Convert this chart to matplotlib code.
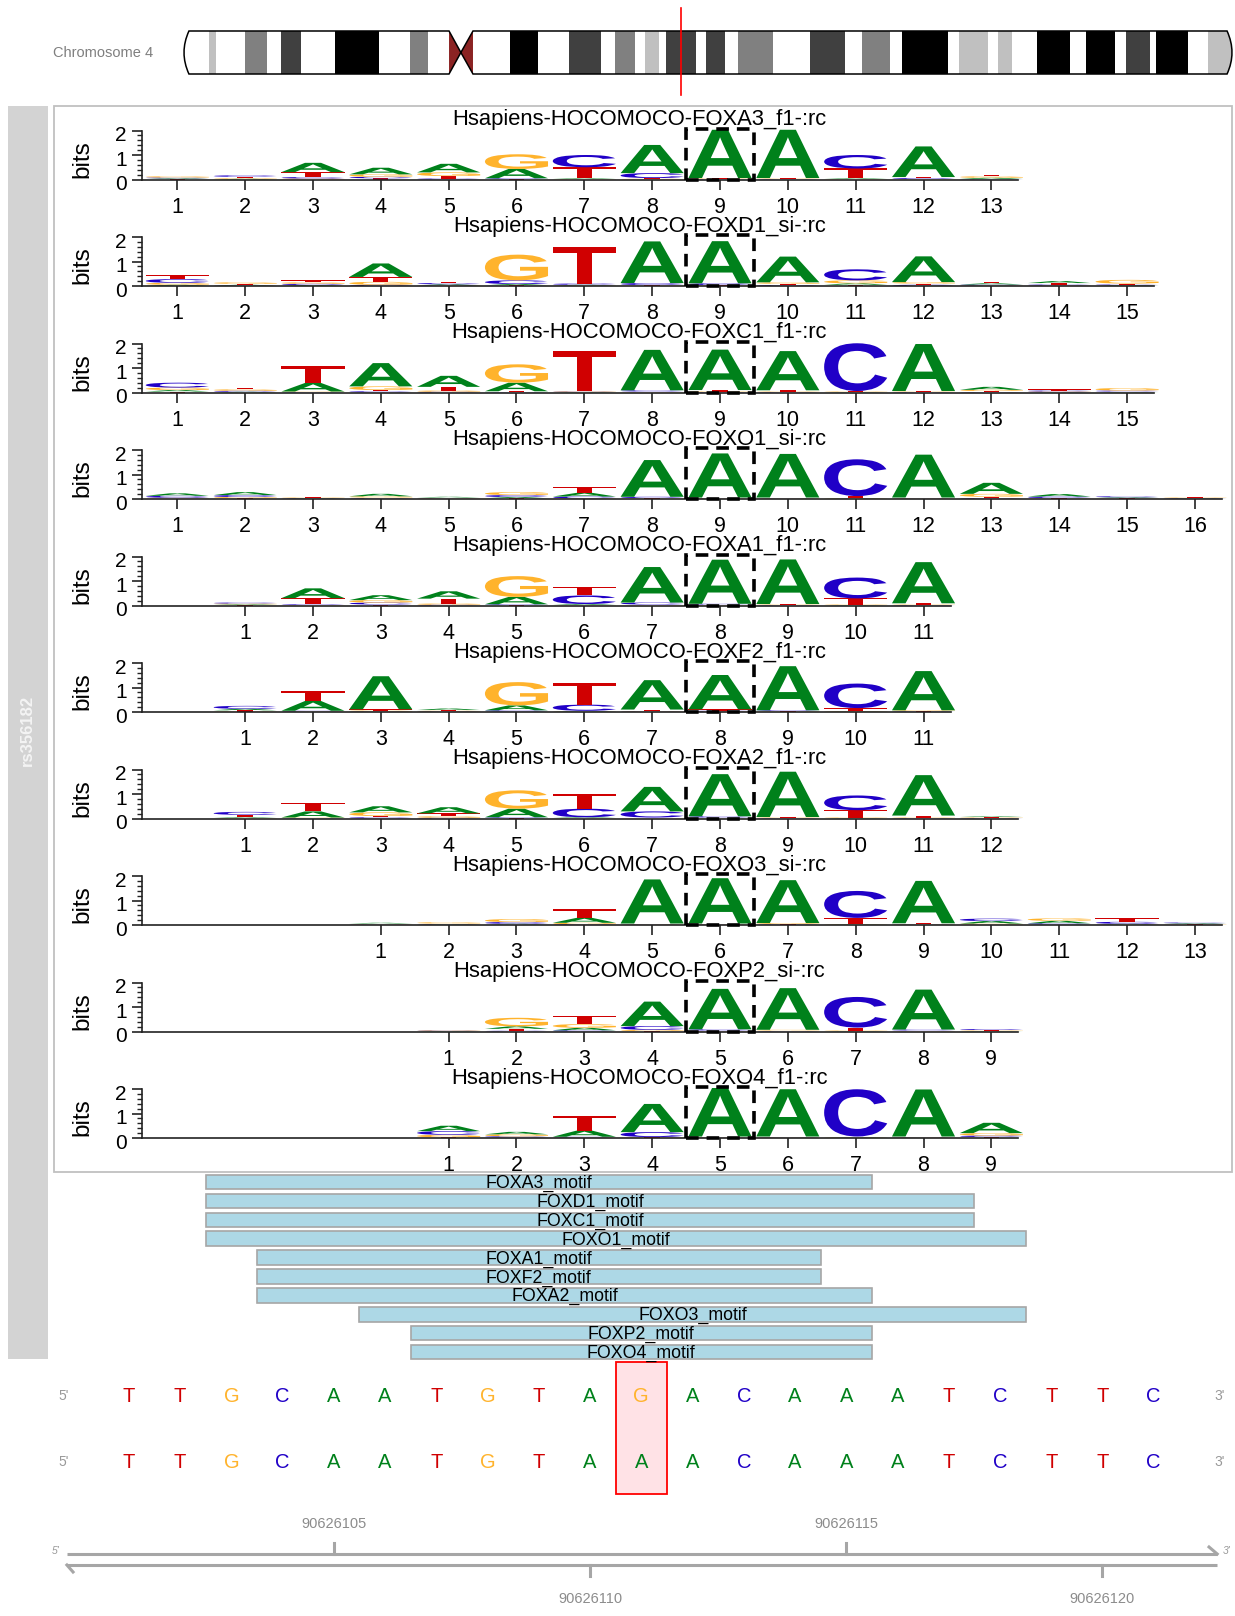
import numpy as np
import matplotlib
matplotlib.use("Agg")
import matplotlib.pyplot as plt
import matplotlib.transforms as mtransforms
from matplotlib.font_manager import FontProperties
from matplotlib.patches import PathPatch, Rectangle, Polygon
from matplotlib.path import Path
from matplotlib.textpath import TextPath
from matplotlib.ticker import MultipleLocator

plt.rcParams['font.family'] = ['Liberation Sans', 'DejaVu Sans']

# ---------------- data ----------------
chrom_name = "Chromosome 4"
chrom_len = 191.15  # Mb
band_starts = [0, 4.56, 5.75, 11.13, 15.14, 17.69, 21.25, 27.54, 35.57, 41.22,
               44.51, 48.34, 50.5, 52.71, 59.46, 64.57, 70.22, 76.06, 78.61, 82.26,
               84.09, 86.64, 87.92, 93.39, 95.21, 98.68, 101.05, 107.43, 114.18, 120.57,
               123.67, 128.77, 130.96, 139.35, 141.36, 146.65, 148.47, 151.03, 155.59, 161.61,
               164.43, 169.81, 171.82, 176.20, 177.29, 183.13, 186.78]
band_stains = ['gneg', 'gpos25', 'gneg', 'gpos50', 'gneg', 'gpos75', 'gneg', 'gpos100', 'gneg', 'gpos50',
               'gneg', 'acen', 'acen', 'gneg', 'gpos100', 'gneg', 'gpos75', 'gneg', 'gpos50', 'gneg',
               'gpos25', 'gneg', 'gpos75', 'gneg', 'gpos75', 'gneg', 'gpos50', 'gneg', 'gpos75', 'gneg',
               'gpos50', 'gneg', 'gpos100', 'gneg', 'gpos25', 'gneg', 'gpos25', 'gneg', 'gpos100', 'gneg',
               'gpos100', 'gneg', 'gpos75', 'gneg', 'gpos100', 'gneg', 'gpos25']

snp_id = "rs356182"
snp_pos = 90626111
seq_start = 90626101
ref_seq = "TTGCAATGTAGACAAATCTTC"
alt_base = "A"

motif_names = ["FOXA3_f1", "FOXD1_si", "FOXC1_f1", "FOXO1_si", "FOXA1_f1",
               "FOXF2_f1", "FOXA2_f1", "FOXO3_si", "FOXP2_si", "FOXO4_f1"]
motif_labels = ["FOXA3_motif", "FOXD1_motif", "FOXC1_motif", "FOXO1_motif", "FOXA1_motif",
                "FOXF2_motif", "FOXA2_motif", "FOXO3_motif", "FOXP2_motif", "FOXO4_motif"]
snp_index = [9, 9, 9, 9, 8, 8, 8, 6, 5, 5]

# information content per position, columns A, C, G, T
foxa3_bits = [[.03, .03, .05, .02], [.03, .06, .03, .05], [.38, .06, .04, .20], [.27, .06, .10, .05],
              [.35, .04, .15, .10], [.38, .03, .60, .02], [.03, .50, .02, .45], [1.15, .20, .03, .03],
              [1.97, .02, .02, .02], [1.97, .02, .02, .02], [.03, .55, .02, .40], [1.25, .04, .02, .04],
              [.05, .02, .06, .07]]
foxd1_bits = [[.05, .15, .08, .15], [.03, .02, .06, .04], [.04, .05, .06, .08], [.55, .05, .12, .20],
              [.05, .05, .02, .05], [.05, .15, 1.05, .03], [.03, .05, .02, 1.50], [1.70, .08, .02, .02],
              [1.72, .07, .02, .02], [1.05, .04, .06, .05], [.06, .45, .12, .05], [1.05, .05, .06, .05],
              [.05, .04, .02, .05], [.08, .04, .02, .06], [.03, .03, .15, .04]]
foxc1_bits = [[.06, .20, .10, .04], [.03, .04, .06, .06], [.35, .02, .02, .70], [.95, .05, .15, .05],
              [.45, .03, .05, .15], [.35, .02, .75, .03], [.02, .02, .02, 1.65], [1.65, .05, .02, .02],
              [1.65, .02, .02, .06], [1.60, .02, .02, .05], [.02, 1.95, .02, .02], [1.92, .02, .02, .02],
              [.12, .02, .05, .04], [.02, .04, .02, .05], [.02, .04, .10, .02]]
foxo1_bits = [[.10, .08, .03, .02], [.12, .08, .05, .03], [.02, .02, .02, .03], [.10, .03, .05, .03],
              [.03, .02, .02, .02], [.05, .08, .12, .03], [.15, .07, .03, .25], [1.50, .05, .02, .02],
              [1.80, .02, .02, .02], [1.78, .02, .02, .02], [.02, 1.50, .02, .08], [1.75, .02, .02, .02],
              [.45, .03, .12, .06], [.10, .06, .02, .02], [.03, .04, .02, .02], [.02, .02, .02, .03]]
foxa1_bits = [[.03, .04, .03, .02], [.40, .03, .02, .25], [.20, .08, .10, .04], [.30, .03, .05, .20],
              [.30, .03, .85, .02], [.04, .35, .02, .35], [1.45, .08, .02, .02], [1.80, .03, .02, .02],
              [1.82, .02, .02, .02], [.02, .85, .02, .25], [1.68, .02, .02, .05]]
foxf2_bits = [[.06, .12, .02, .05], [.40, .03, .02, .40], [1.35, .02, .04, .05], [.06, .02, .03, .03],
              [.20, .05, .95, .02], [.03, .25, .02, .90], [1.20, .02, .02, .06], [1.40, .03, .02, .06],
              [1.80, .03, .02, .02], [.02, 1.00, .02, .12], [1.60, .02, .03, .02]]
foxa2_bits = [[.03, .12, .02, .10], [.25, .02, .02, .35], [.25, .05, .15, .05], [.25, .03, .06, .12],
              [.35, .03, .75, .02], [.03, .35, .02, .60], [1.00, .25, .02, .02], [1.72, .05, .02, .02],
              [1.85, .02, .02, .02], [.02, .60, .02, .30], [1.65, .02, .02, .08], [.03, .02, .02, .02]]
foxo3_bits = [[.03, .02, .02, .02], [.02, .02, .05, .02], [.03, .07, .12, .02], [.20, .03, .06, .35],
              [1.80, .02, .02, .02], [1.85, .02, .02, .02], [1.75, .02, .04, .02], [.02, 1.10, .02, .25],
              [1.73, .02, .02, .03], [.10, .10, .04, .02], [.10, .05, .10, .02], [.03, .08, .02, .15],
              [.03, .03, .02, .02]]
foxp2_bits = [[.02, .02, .02, .02], [.10, .03, .35, .08], [.10, .05, .15, .35], [1.00, .15, .05, .02],
              [1.65, .05, .02, .02], [1.70, .02, .03, .02], [.02, 1.25, .02, .12], [1.63, .04, .02, .02],
              [.02, .04, .02, .02]]
foxo4_bits = [[.22, .15, .10, .03], [.10, .05, .08, .02], [.25, .03, .02, .60], [1.15, .20, .02, .02],
              [1.98, .02, .02, .02], [1.93, .02, .02, .02], [.02, 1.93, .02, .02], [1.92, .02, .02, .02],
              [.42, .06, .10, .04]]
motif_bits = [foxa3_bits, foxd1_bits, foxc1_bits, foxo1_bits, foxa1_bits,
              foxf2_bits, foxa2_bits, foxo3_bits, foxp2_bits, foxo4_bits]

# ---------------- styles ----------------
base_colors = {"A": "#00811B", "C": "#2000C7", "G": "#FFB32C", "T": "#D00001"}
stain_colors = {"gneg": "white", "gpos25": "#C0C0C0", "gpos50": "#808080",
                "gpos75": "#404040", "gpos100": "black", "acen": "#8B2323"}

W, H = 1235, 1616
fig = plt.figure(figsize=(W / 100, H / 100), dpi=100)


def ax_px(x0, y0, x1, y1):
    return fig.add_axes([x0 / W, 1 - y1 / H, (x1 - x0) / W, (y1 - y0) / H])


# background layer (frames and side strip)
bg = fig.add_axes([0, 0, 1, 1], zorder=-5)
bg.set_xlim(0, W)
bg.set_ylim(H, 0)
bg.axis('off')
bg.add_patch(Rectangle((8, 106), 40, 1253, color='#D3D3D3', lw=0))
bg.text(27, 730, snp_id, rotation=90, ha='center', va='center', color='#F4F4F4',
        fontsize=12, fontweight='bold')
bg.add_patch(Rectangle((54, 106), 1178, 1066, fill=False, ec='#C0C0C0', lw=1.3))
bg.text(103, 53, chrom_name, ha='center', va='center', color='#7F7F7F', fontsize=10.5)

# ---------------- ideogram ----------------
axi = ax_px(184, 0, 1232, 105)
axi.set_xlim(0, chrom_len)
axi.set_ylim(105, 0)
axi.axis('off')
top, bot = 31, 74
mid = (top + bot) / 2
ends = band_starts[1:] + [chrom_len]
acen = [(s, e) for s, e, st in zip(band_starts, ends, band_stains) if st == 'acen']
c0, cm, c1 = acen[0][0], acen[0][1], acen[1][1]
r = 0.9
verts = [(r, top), (c0, top), (cm, mid), (c1, top), (chrom_len - r, top),
         (chrom_len + r, mid), (chrom_len - r, bot), (c1, bot), (cm, mid), (c0, bot),
         (r, bot), (-r, mid), (r, top), (r, top)]
codes = [Path.MOVETO, Path.LINETO, Path.LINETO, Path.LINETO, Path.LINETO,
         Path.CURVE3, Path.CURVE3, Path.LINETO, Path.LINETO, Path.LINETO,
         Path.LINETO, Path.CURVE3, Path.CURVE3, Path.CLOSEPOLY]
outline = PathPatch(Path(verts, codes), fill=False, ec='black', lw=1.1, zorder=4, clip_on=False)
axi.add_patch(outline)
clip = PathPatch(Path(verts, codes), transform=axi.transData)
for s, e, st in zip(band_starts, ends, band_stains):
    if st == 'acen':
        continue
    bars = axi.bar(s, bot - top, width=e - s, bottom=top, align='edge',
                   color=stain_colors[st], lw=0, zorder=2)
    for b in bars:
        b.set_clip_path(clip)
for x_flat, tip in [(c0, cm), (c1, cm)]:
    axi.add_patch(Polygon([(x_flat, top), (tip, mid), (x_flat, bot)], closed=True,
                          color=stain_colors['acen'], lw=0, zorder=3))
axi.plot([snp_pos / 1e6] * 2, [8, 95], color='red', lw=1.2, zorder=5)

# ---------------- sequence logos ----------------
glyph_font = FontProperties(family='Liberation Sans', weight='bold')
glyphs = {b: TextPath((0, 0), b, size=1, prop=glyph_font) for b in "ACGT"}


def draw_letter(ax, b, x, y0, h, w=0.93):
    tp = glyphs[b]
    ext = tp.get_extents()
    tr = (mtransforms.Affine2D().translate(-ext.x0, -ext.y0)
          .scale(w / ext.width, h / ext.height).translate(x - w / 2, y0))
    ax.add_patch(PathPatch(tr.transform_path(tp), fc=base_colors[b], ec='none', lw=0, clip_on=False))


col_px, snp_col_px = 67.84, 720
panel_x0, panel_x1 = 54, 1232
yaxis_px = 142
label_shift = mtransforms.ScaledTranslation(0, -2.5 / 72, fig.dpi_scale_trans)


def gcol(px):
    return (px - snp_col_px) / col_px


for i, (name, bits, si) in enumerate(zip(motif_names, motif_bits, snp_index)):
    base = 179.5 + 106.5 * i
    ax = ax_px(panel_x0, base - 49, panel_x1, base)
    ax.set_xlim(gcol(panel_x0), gcol(panel_x1))
    ax.set_ylim(0, 2)
    ax.patch.set_visible(False)
    bits = np.asarray(bits)
    n = len(bits)
    xs = np.arange(1, n + 1) - si
    for x, row in zip(xs, bits):
        y0 = 0.0
        for k in np.argsort(row, kind='stable'):
            draw_letter(ax, "ACGT"[k], x, y0, row[k])
            y0 += row[k]
    for sp in ['top', 'right']:
        ax.spines[sp].set_visible(False)
    ax.spines['left'].set_position(('data', gcol(yaxis_px)))
    ax.spines['left'].set_bounds(0, 2)
    ax.spines['bottom'].set_bounds(gcol(yaxis_px), xs[-1] + 0.4)
    for sp in ['left', 'bottom']:
        ax.spines[sp].set_color('#222222')
        ax.spines[sp].set_linewidth(1.2)
    ax.set_xticks(xs)
    ax.set_xticklabels([str(k) for k in range(1, n + 1)], fontsize=15.5)
    ax.set_yticks([0, 1, 2])
    ax.set_yticklabels(['0', '1', '2'], fontsize=15)
    ax.yaxis.set_minor_locator(MultipleLocator(0.2))
    ax.tick_params(axis='x', length=7, width=1.2, pad=5.5, color='#222222')
    ax.tick_params(axis='y', which='major', length=7, width=1.2, pad=4, color='#222222')
    ax.tick_params(axis='y', which='minor', length=3.5, width=1.0, color='#222222')
    for lbl in ax.get_yticklabels():
        lbl.set_transform(lbl.get_transform() + label_shift)
    ax.text(gcol(82), 0.85, 'bits', rotation=90, ha='center', va='center', fontsize=17.5, clip_on=False)
    ax.text(0.497, 2.43, f"Hsapiens-HOCOMOCO-{name}-:rc",
            transform=mtransforms.blended_transform_factory(ax.transAxes, ax.transData),
            ha='center', va='center', fontsize=15.8, clip_on=False)
    ax.add_patch(Rectangle((-0.5, 0), 1, 2.07, fill=False, ec='black', lw=2.6,
                           ls=(0, (3.5, 2.2)), clip_on=False, zorder=6))

# ---------------- motif ranges, sequence and genome axis ----------------
bp_px = 51.24
x_left = seq_start - 128.9 / bp_px
axb = ax_px(0, 1165, W, H)
axb.set_xlim(x_left, x_left + W / bp_px)
axb.set_ylim(H, 1165)
axb.axis('off')

for i, (lab, bits, si) in enumerate(zip(motif_labels, motif_bits, snp_index)):
    start = snp_pos - (si - 1)
    end = start + len(bits) - 1
    y = 1182 + 18.9 * i
    axb.barh(y, end - start + 1, left=start - 0.5, height=14.5, color='#ADD8E6',
             edgecolor='#A6A6A6', linewidth=1.2)
    axb.text((start + end) / 2, y + 1.5, lab, ha='center', va='center', fontsize=12.8)

seq_pos = seq_start + np.arange(len(ref_seq))
seq_end = seq_pos[-1]
alt_seq = ''.join(alt_base if p == snp_pos else b for p, b in zip(seq_pos, ref_seq))
axb.add_patch(Rectangle((snp_pos - 0.5, 1362), 1, 132, fc='#FFE2E6', ec='red', lw=1.3, zorder=0))
for yrow, seq in [(1396, ref_seq), (1462, alt_seq)]:
    for p, b in zip(seq_pos, seq):
        axb.text(p, yrow, b, color=base_colors[b], ha='center', va='center', fontsize=14.5)
    axb.text(seq_start - 1.27, yrow, "5'", color='#999999', ha='center', va='center', fontsize=10)
    axb.text(seq_end + 1.29, yrow, "3'", color='#999999', ha='center', va='center', fontsize=10)

gl, gr = seq_start - 1.21, seq_end + 1.24
gcolor = '#A6A6A6'
axb.plot([gl, gr], [1554, 1554], color=gcolor, lw=2.2, solid_capstyle='butt')
axb.plot([gr - 0.16, gr], [1547, 1554], color=gcolor, lw=2.2)
axb.plot([gl, gr], [1565, 1565], color=gcolor, lw=2.2, solid_capstyle='butt')
axb.plot([gl, gl + 0.12], [1565, 1572], color=gcolor, lw=2.2)
axb.text(gl - 0.15, 1551, "5'", color='#999999', ha='right', va='center', fontsize=7.5, style='italic')
axb.text(gr + 0.1, 1551, "3'", color='#999999', ha='left', va='center', fontsize=7.5, style='italic')
for p in range(seq_start, seq_end + 1):
    if p % 10 == 5:
        axb.plot([p, p], [1554, 1543], color=gcolor, lw=2.2)
        axb.text(p, 1524, str(p), color='#8C8C8C', ha='center', va='center', fontsize=10.5)
    elif p % 10 == 0:
        axb.plot([p, p], [1565, 1576], color=gcolor, lw=2.2)
        axb.text(p, 1599, str(p), color='#8C8C8C', ha='center', va='center', fontsize=10.5)

fig.savefig("out.png", dpi=100)
